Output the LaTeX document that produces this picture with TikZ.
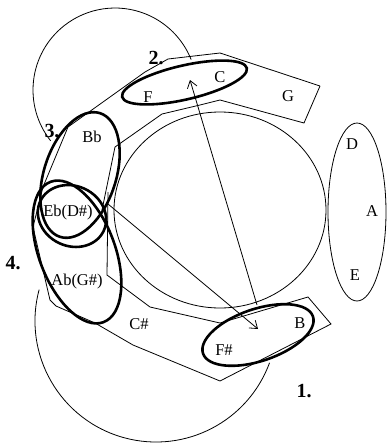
\documentclass[tikz,border=0pt]{standalone}
\usepackage{fontspec}
\setmainfont{Liberation Serif}
\usetikzlibrary{arrows.meta}
\begin{document}
\begin{tikzpicture}[x=1pt,y=-1pt,
  thinline/.style={line width=0.8pt},
  boldell/.style={line width=2.6pt},
  note/.style={inner sep=0pt, font=\fontsize{16.5}{16.5}\selectfont},
  num/.style={inner sep=0pt, font=\fontsize{20}{20}\selectfont\bfseries},
  arr/.style={line width=0.8pt, -{Straight Barb[length=7pt,width=10pt]}}]
\useasboundingbox (0,0) rectangle (387,445);
\fill[white] (0,0) rectangle (387,445);

% large circles (visible parts)
\coordinate (tc) at (115,90);
\draw[thinline] (tc) ++(141.7:82) arc[start angle=141.7,end angle=338.2,radius=82];
\coordinate (bc) at (156,321);
\draw[thinline] (bc) ++(195:121) arc[start angle=195,end angle=20.2,radius=121];

% inner circle
\coordinate (ic) at (220,210);
\draw[thinline] (ic) ellipse [x radius=106, y radius=98];

% ring of fifths
\draw[thinline] (320,86) -- (220,53) -- (168,59) -- (145,72) -- (68,127) -- (43,187)
  -- (33,227) -- (50,300) -- (56,306) -- (95,323) -- (133,345) -- (220,381)
  -- (331,324) -- (308,297) -- (220,323) -- (150,307) -- (107,275) -- (108,192);
\draw[thinline] (102,210) -- (115,147) -- (162,114) -- (200,105) -- (220,100)
  -- (304,123) -- (320,86);

% D A E ellipse
\coordinate (dae) at (357,212);
\draw[thinline] (dae) ellipse [x radius=29, y radius=89];

% bold ellipses
\coordinate (e1) at (258,335);
\draw[boldell, rotate around={18.6:(e1)}] (e1) ellipse [x radius=58, y radius=26];
\coordinate (e2) at (184.5,82.5);
\draw[boldell, rotate around={13:(e2)}] (e2) ellipse [x radius=64, y radius=17];
\coordinate (e3) at (80,175);
\draw[boldell, rotate around={-18:(e3)}] (e3) ellipse [x radius=36, y radius=65];
\coordinate (eEb) at (72,216);
\draw[boldell, rotate around={-25:(eEb)}] (eEb) ellipse [x radius=35, y radius=30];
\coordinate (e4) at (77,252);
\draw[boldell, rotate around={20.7:(e4)}] (e4) ellipse [x radius=38, y radius=75];

% labels
\node[note] (F) at (148,97) {F};
\node[note] (C) at (220,77) {C};
\node[note] (G) at (288,96) {G};
\node[note] (Bb) at (92,137) {Bb};
\node[note] (Eb) at (68,213) {Eb(D\#)};
\node[note] (Ab) at (77,282) {Ab(G\#)};
\node[note] (Cs) at (139,324) {C\#};
\node[note] (Fs) at (224,350) {F\#};
\node[note] (B) at (300,323) {B};
\node[note] (D) at (352,144) {D};
\node[note] (A) at (372,211) {A};
\node[note] (E) at (355,275) {E};
\node[num] (n1) at (304,391) {1.};
\node[num] (n2) at (156,58) {2.};
\node[num] (n3) at (52,131) {3.};
\node[num] (n4) at (13,263) {4.};

% arrows
\coordinate (ebout) at (108,204);
\coordinate (fstip) at (258,329);
\coordinate (bstart) at (257,305);
\coordinate (ctip) at (190,80);
\draw[arr] (ebout) -- (fstip);
\draw[arr] (bstart) -- (ctip);
\end{tikzpicture}
\end{document}
